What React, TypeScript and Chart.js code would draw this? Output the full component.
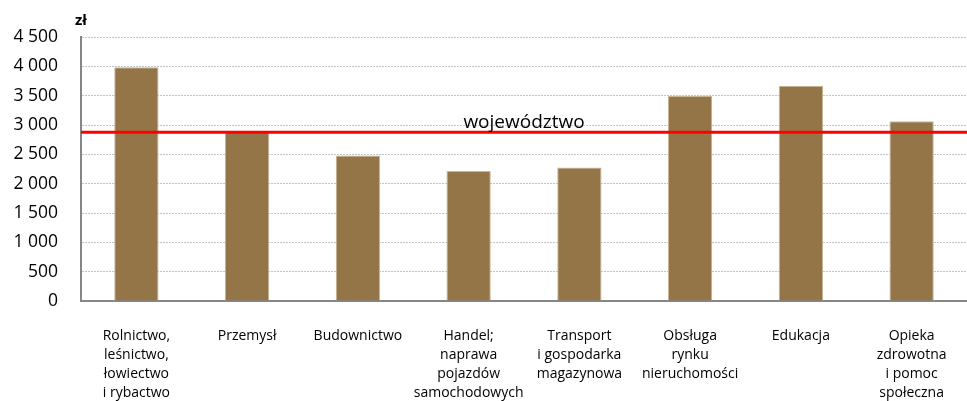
import React, { useEffect, useRef } from "react";
import { Chart, registerables } from "chart.js";

Chart.register(...registerables);

const categories: string[][] = [
  ["Rolnictwo,", "leśnictwo,", "łowiectwo", "i rybactwo"],
  ["Przemysł"],
  ["Budownictwo"],
  ["Handel;", "naprawa", "pojazdów", "samochodowych"],
  ["Transport", "i gospodarka", "magazynowa"],
  ["Obsługa", "rynku", "nieruchomości"],
  ["Edukacja"],
  ["Opieka", "zdrowotna", "i pomoc", "społeczna"],
];

const wages: number[] = [3985, 2885, 2480, 2215, 2275, 3495, 3670, 3065];

const provinceValue = 2875;
const provinceLabel = "województwo";
const unitLabel = "zł";

const FONT = "'Open Sans', sans-serif";

const fmt = (v: number) => String(v).replace(/\B(?=(\d{3})+(?!\d))/g, " ");

const refLinePlugin = {
  id: "refLine",
  afterDatasetsDraw(chart: any) {
    const { ctx, chartArea, scales } = chart;
    const y = scales.y.getPixelForValue(provinceValue);
    ctx.save();
    ctx.strokeStyle = "#ff0000";
    ctx.lineWidth = 3;
    ctx.beginPath();
    ctx.moveTo(chartArea.left, y);
    ctx.lineTo(chartArea.right, y);
    ctx.stroke();
    ctx.fillStyle = "#000000";
    ctx.font = `19px ${FONT}`;
    ctx.textAlign = "center";
    ctx.textBaseline = "alphabetic";
    ctx.fillText(provinceLabel, (chartArea.left + chartArea.right) / 2, y - 4);
    ctx.font = `bold 15px ${FONT}`;
    ctx.fillText(unitLabel, chartArea.left, chartArea.top - 12);
    ctx.restore();
  },
};

export default function App() {
  const ref = useRef<HTMLCanvasElement | null>(null);
  useEffect(() => {
    document.body.style.margin = "0";
    const chart = new Chart(ref.current!, {
      type: "bar",
      data: {
        labels: categories,
        datasets: [
          {
            data: wages,
            backgroundColor: "#937547",
            borderColor: "#c8b697",
            borderWidth: 1,
            barPercentage: 0.4,
            categoryPercentage: 1,
          },
        ],
      },
      options: {
        animation: false,
        responsive: false,
        layout: { padding: { top: 37, right: 0, left: 0, bottom: 0 } },
        plugins: { legend: { display: false }, tooltip: { enabled: false } },
        scales: {
          x: {
            grid: { display: false },
            border: { display: true, color: "#868686", width: 2 },
            ticks: {
              color: "#000",
              font: { family: FONT, size: 14, lineHeight: 1.36 },
              maxRotation: 0,
              minRotation: 0,
              autoSkip: false,
              padding: 17,
            },
            afterFit: (s: any) => {
              s.height = 100;
            },
          },
          y: {
            min: 0,
            max: 4500,
            ticks: {
              stepSize: 500,
              color: "#000",
              font: { family: FONT, size: 17.5 },
              padding: 23,
              callback: (v: any) => fmt(Number(v)),
            },
            grid: { color: "#c4c4c4", lineWidth: 1, drawTicks: false },
            border: { display: true, color: "#868686", width: 2, dash: [2, 1] },
            afterFit: (s: any) => {
              s.width = 81;
            },
          },
        },
      },
      plugins: [refLinePlugin],
    });
    return () => chart.destroy();
  }, []);
  return (
    <div style={{ position: "absolute", left: 0, top: 0, width: 967, height: 401 }}>
      <canvas ref={ref} width={967} height={401} style={{ display: "block" }} />
    </div>
  );
}
